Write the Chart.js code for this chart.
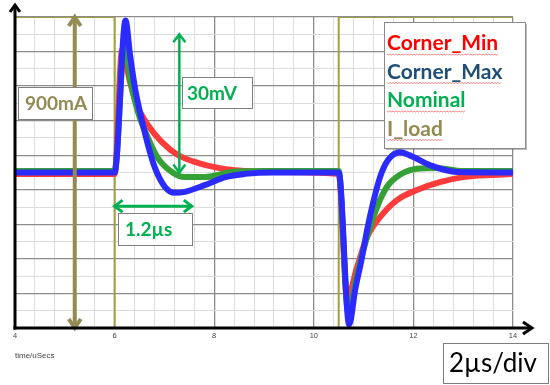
<!DOCTYPE html>
<html>
<head>
<meta charset="utf-8">
<script src="https://cdn.jsdelivr.net/npm/chart.js@4.4.1/dist/chart.umd.min.js"></script>
<style>
html, body { margin: 0; padding: 0; background: #fff; }
#wrap { width: 550px; height: 385px; }
</style>
</head>
<body>
<div id="wrap"><canvas id="myChart" width="550" height="385"></canvas></div>
<script>
// time in uSecs, output deviation in mV, load in mA
const tMax = [4, 6.0, 6.22, 6.31, 6.41, 6.51, 6.67, 6.81, 7.01, 7.21, 7.41, 7.82, 8.22, 8.62, 9.2, 10.5, 10.71, 10.83, 10.97, 11.07, 11.19, 11.33, 11.49, 11.73, 11.99, 12.33, 12.88, 14];
const vMax = [0, 0, 33, 25.5, 18.3, 13.1, 6.0, 1.0, -3.1, -4.4, -4.2, -2.7, -1.0, -0.3, 0, 0, -33, -25.5, -18.3, -12.5, -6.6, -1.0, 2.7, 4.4, 3.4, 1.6, 0.1, 0];

const tNom = [4, 6.0, 6.21, 6.31, 6.47, 6.67, 6.87, 7.15, 7.41, 7.82, 8.36, 9.0, 10.5, 10.69, 10.87, 11.07, 11.27, 11.47, 11.73, 12.07, 12.47, 13.0, 14];
const vNom = [0.3, 0.3, 29.4, 20.5, 13.1, 7.5, 3.1, 0.1, -1.0, -1.0, 0.1, 0.3, 0.3, -30.3, -21.9, -14.0, -7.5, -3.1, -0.5, 0.8, 1.0, 0.3, 0.3];

const tMin = [4, 6.0, 6.15, 6.31, 6.45, 6.67, 6.95, 7.27, 7.67, 8.08, 8.42, 9.1, 10.5, 10.67, 10.87, 11.07, 11.33, 11.67, 12.07, 12.53, 13.0, 13.68, 14];
const vMin = [-0.3, -0.3, 26.6, 19.6, 14.6, 10.3, 6.6, 3.8, 2.1, 1.0, 0.5, 0.1, -0.3, -27.2, -20.5, -14.0, -9.7, -6.0, -3.8, -2.1, -1.0, -0.5, -0.3];

const tLoad = [4, 6, 6, 10.5, 10.5, 14];
const iLoad = [900, 900, 0, 0, 900, 900];

const xTickLabels = [4, 6, 8, 10, 12, 14];

const rippleArrow = { t: 7.3, from: 0, to: 30 };     // 30mV
const settleArrow = { v: -7.3, from: 6, to: 7.55 };  // 1.2us
const loadArrow = { t: 5.2, from: 0, to: 900 };      // 900mA

const pts = (ts, vs) => ts.map((t, i) => ({ x: t, y: vs[i] }));

function chevron(ctx, tx, ty, dx, dy, len, spread) {
  const px = -dy, py = dx;
  ctx.beginPath();
  ctx.moveTo(tx - dx * len + px * spread, ty - dy * len + py * spread);
  ctx.lineTo(tx, ty);
  ctx.lineTo(tx - dx * len - px * spread, ty - dy * len - py * spread);
  ctx.stroke();
}

function dblArrow(ctx, x1, y1, x2, y2, color, w, len, spread) {
  ctx.save();
  ctx.strokeStyle = color;
  ctx.lineWidth = w;
  ctx.lineCap = 'butt';
  ctx.lineJoin = 'miter';
  ctx.beginPath();
  ctx.moveTo(x1, y1);
  ctx.lineTo(x2, y2);
  ctx.stroke();
  const d = Math.hypot(x2 - x1, y2 - y1);
  const ux = (x2 - x1) / d, uy = (y2 - y1) / d;
  chevron(ctx, x2, y2, ux, uy, len, spread);
  chevron(ctx, x1, y1, -ux, -uy, len, spread);
  ctx.restore();
}

function textBox(ctx, x, y, w, h, text, color, font, tx) {
  ctx.save();
  ctx.fillStyle = '#fff';
  ctx.fillRect(x, y, w, h);
  ctx.strokeStyle = '#7f7f7f';
  ctx.lineWidth = 1;
  ctx.strokeRect(x + 0.5, y + 0.5, w, h);
  ctx.fillStyle = color;
  ctx.font = font;
  ctx.textBaseline = 'middle';
  ctx.textAlign = 'left';
  ctx.fillText(text, x + tx, y + h / 2 + 1);
  ctx.restore();
}

function squiggle(ctx, x, y, w) {
  ctx.save();
  ctx.strokeStyle = 'rgba(255,40,40,0.7)';
  ctx.lineWidth = 0.8;
  ctx.beginPath();
  for (let i = 0; i <= w; i += 1.5) {
    const yy = y + ((Math.round(i / 1.5) % 2) ? 1 : 0);
    if (i === 0) ctx.moveTo(x + i, yy); else ctx.lineTo(x + i, yy);
  }
  ctx.stroke();
  ctx.restore();
}

const notes = {
  id: 'notes',
  afterDatasetsDraw(chart) {
    const ctx = chart.ctx;
    const xs = chart.scales.x, ys = chart.scales.y, y2 = chart.scales.y2;
    const area = chart.chartArea;

    // 900mA
    const lx = xs.getPixelForValue(loadArrow.t);
    dblArrow(ctx, lx, y2.getPixelForValue(loadArrow.from), lx, y2.getPixelForValue(loadArrow.to), '#948a54', 4, 9, 6);
    textBox(ctx, 18, 87, 74, 32, '900mA', '#948a54', 'bold 19px Lato', 7);

    // 30mV
    const rx = xs.getPixelForValue(rippleArrow.t);
    dblArrow(ctx, rx, ys.getPixelForValue(rippleArrow.from), rx, ys.getPixelForValue(rippleArrow.to), '#00b050', 2.5, 8, 6);
    textBox(ctx, 182, 77, 70, 31, '30mV', '#00b050', 'bold 19px Lato', 5);

    // 1.2us
    const sy = ys.getPixelForValue(settleArrow.v);
    dblArrow(ctx, xs.getPixelForValue(settleArrow.from), sy, xs.getPixelForValue(settleArrow.to), sy, '#00b050', 3, 8, 6);
    textBox(ctx, 118, 213, 74, 32, '1.2\u00b5s', '#00b050', 'bold 19px Lato', 7);

    // legend box
    ctx.save();
    ctx.fillStyle = 'rgba(0,0,0,0.25)';
    ctx.fillRect(386, 24, 141, 126);
    ctx.fillStyle = '#fff';
    ctx.fillRect(384, 22, 141, 126);
    ctx.strokeStyle = '#8a8a8a';
    ctx.lineWidth = 1;
    ctx.strokeRect(384.5, 22.5, 141, 126);
    ctx.font = 'bold 21px Lato';
    ctx.textBaseline = 'alphabetic';
    ctx.textAlign = 'left';
    chart.data.datasets.slice().sort((a, b) => a.legendRank - b.legendRank).forEach((ds, i) => {
      const by = 50 + i * 28.5;
      ctx.fillStyle = ds.textColor;
      ctx.fillText(ds.label, 387, by);
      squiggle(ctx, 387, by + 4, ctx.measureText(ds.label).width);
    });
    ctx.restore();

    // axes with arrows
    ctx.save();
    ctx.strokeStyle = '#000';
    ctx.lineWidth = 3;
    ctx.beginPath();
    ctx.moveTo(area.left, area.bottom + 1.5);
    ctx.lineTo(area.left, 6);
    ctx.stroke();
    chevron(ctx, area.left, 5, 0, -1, 7, 5);
    ctx.beginPath();
    ctx.moveTo(area.left - 1.5, area.bottom);
    ctx.lineTo(531, area.bottom);
    ctx.stroke();
    chevron(ctx, 532, area.bottom, 1, 0, 9, 6);
    ctx.restore();

    // scale note
    textBox(ctx, 443, 343, 105, 40, '2\u00b5s/div', '#000', '26px Lato', 6);
  }
};

const isMajorX = v => Math.abs(v / 2 - Math.round(v / 2)) < 1e-6;
const isMajorY = v => Math.abs(Math.round(v / 3.75)) % 2 === 1;

new Chart(document.getElementById('myChart'), {
  type: 'line',
  data: {
    datasets: [
      { label: 'Corner_Max', legendRank: 1, textColor: '#1f4e79', data: pts(tMax, vMax), borderColor: '#2b2bff', yAxisID: 'y' },
      { label: 'Nominal', legendRank: 2, textColor: '#00b050', data: pts(tNom, vNom), borderColor: '#35a035', yAxisID: 'y' },
      { label: 'Corner_Min', legendRank: 0, textColor: '#ff0000', data: pts(tMin, vMin), borderColor: '#ff3b3b', yAxisID: 'y' },
      { label: 'I_load', legendRank: 3, textColor: '#948a54', data: pts(tLoad, iLoad), borderColor: '#a3a03c', borderWidth: 2, tension: 0, cubicInterpolationMode: 'default', yAxisID: 'y2' }
    ]
  },
  options: {
    responsive: false,
    animation: false,
    devicePixelRatio: 1,
    layout: { padding: { left: 15, top: 17, right: 37, bottom: 0 } },
    elements: {
      point: { radius: 0 },
      line: { borderWidth: 6, cubicInterpolationMode: 'monotone' }
    },
    plugins: { legend: { display: false }, tooltip: { enabled: false } },
    scales: {
      x: {
        type: 'linear', min: 4, max: 14,
        afterFit(s) { s.height = 57; },
        border: { display: false },
        grid: {
          drawTicks: false,
          color: c => isMajorX(c.tick.value) ? '#8c8c8c' : '#dcdcdc',
          lineWidth: c => isMajorX(c.tick.value) ? 1.3 : 1
        },
        ticks: {
          stepSize: 0.4, autoSkip: false, maxRotation: 0, padding: 3,
          color: '#444', font: { family: 'Liberation Sans', size: 7.5 },
          callback: v => xTickLabels.some(l => Math.abs(l - v) < 1e-6) ? String(Math.round(v)) : ''
        },
        title: {
          display: true, text: 'time/uSecs', align: 'start', color: '#444',
          font: { family: 'Liberation Sans', size: 8 }, padding: { top: 24, bottom: 24 }
        }
      },
      y: {
        min: -33.75, max: 33.75,
        afterFit(s) { s.width = 0; },
        border: { display: false },
        grid: {
          drawTicks: false,
          color: c => isMajorY(c.tick.value) ? '#8c8c8c' : '#dcdcdc',
          lineWidth: c => isMajorY(c.tick.value) ? 1.3 : 1
        },
        ticks: { display: false, stepSize: 3.75 }
      },
      y2: { display: false, min: 0, max: 900 }
    }
  },
  plugins: [notes]
});
</script>
</body>
</html>
